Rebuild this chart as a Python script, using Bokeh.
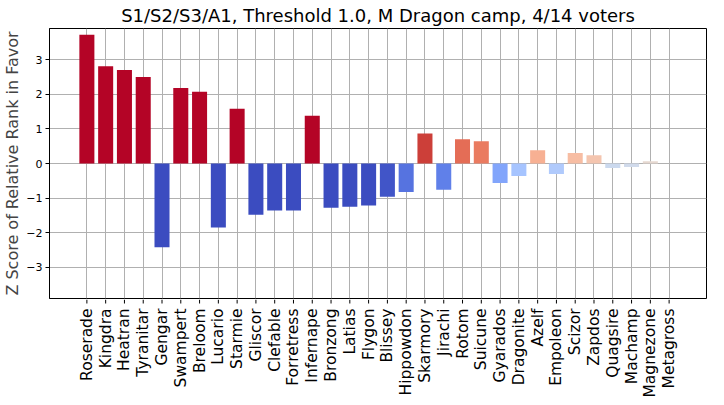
import math
from bokeh.plotting import figure
from bokeh.layouts import column
from bokeh.models import ColumnDataSource, FixedTicker, Range1d
from bokeh.core.properties import value
from bokeh.embed import file_html
from bokeh.resources import INLINE

names = ["Roserade", "Kingdra", "Heatran", "Tyranitar", "Gengar", "Swampert", "Breloom",
         "Lucario", "Starmie", "Gliscor", "Clefable", "Forretress", "Infernape", "Bronzong",
         "Latias", "Flygon", "Blissey", "Hippowdon", "Skarmory", "Jirachi", "Rotom", "Suicune",
         "Gyarados", "Dragonite", "Azelf", "Empoleon", "Scizor", "Zapdos", "Quagsire",
         "Machamp", "Magnezone", "Metagross"]
zscores = [3.72, 2.81, 2.70, 2.50, -2.42, 2.18, 2.07, -1.85, 1.58, -1.48, -1.36, -1.36, 1.38,
           -1.28, -1.25, -1.21, -0.96, -0.82, 0.87, -0.76, 0.70, 0.64, -0.56, -0.36, 0.38,
           -0.30, 0.30, 0.24, -0.13, -0.10, 0.067, 0.0]
y_ticks = [-3, -2, -1, 0, 1, 2, 3]
Y_MIN, Y_MAX = -3.9, 3.9

# Moreland coolwarm control points (33 samples)
COOLWARM = [(59, 76, 192), (68, 90, 204), (77, 104, 215), (87, 117, 225), (98, 130, 234),
            (108, 142, 241), (119, 154, 247), (130, 165, 251), (141, 176, 254), (152, 185, 255),
            (163, 194, 255), (174, 201, 253), (184, 208, 249), (194, 213, 244), (204, 217, 238),
            (213, 219, 230), (221, 221, 221), (229, 216, 209), (236, 211, 197), (241, 204, 185),
            (245, 196, 173), (247, 187, 160), (247, 177, 148), (247, 166, 135), (244, 154, 123),
            (241, 141, 111), (236, 127, 99), (229, 112, 88), (222, 96, 77), (213, 80, 66),
            (203, 62, 56), (192, 40, 47), (180, 4, 38)]


def coolwarm(v, vmin=-1.0, vmax=1.0):
    t = (v - vmin) / (vmax - vmin)
    t = min(max(t, 0.0), 1.0)
    pos = t * (len(COOLWARM) - 1)
    i = int(pos)
    if i >= len(COOLWARM) - 1:
        r, g, b = COOLWARM[-1]
    else:
        f = pos - i
        a, c = COOLWARM[i], COOLWARM[i + 1]
        r, g, b = [a[k] + (c[k] - a[k]) * f for k in range(3)]
    return "#%02x%02x%02x" % (int(round(r)), int(round(g)), int(round(b)))


xs = list(range(len(names)))
src = ColumnDataSource(dict(x=xs, top=zscores, color=[coolwarm(v) for v in zscores], name=names))

FONT = "DejaVu Sans"
LEFT, RIGHT = 41, 2
W = 708
H_MAIN, H_LAB = 299, 98

xr = Range1d(-1.99, 32.99)
p = figure(width=W, height=H_MAIN, output_backend="svg", toolbar_location=None,
           title="S1/S2/S3/A1, Threshold 1.0, M Dragon camp, 4/14 voters",
           x_range=xr, y_range=Range1d(Y_MIN, Y_MAX),
           min_border_left=LEFT, min_border_right=RIGHT, min_border_top=0, min_border_bottom=1)

p.vbar(x="x", top="top", bottom=0, width=0.8, fill_color="color", line_color=None, source=src)

p.title.text_font = FONT
p.title.text_font_size = "18px"
p.title.text_font_style = "normal"
p.title.align = "center"
p.title.text_color = "black"
p.title.standoff = 5

p.outline_line_color = "black"
p.outline_line_width = 1
p.outline_line_alpha = 1.0

p.xaxis.visible = False

ax = p.yaxis[0]
ax.axis_line_color = "black"
ax.major_tick_line_color = "black"
ax.major_tick_out = 4
ax.major_tick_in = 0
ax.minor_tick_line_color = None
ax.major_label_text_font = FONT
ax.major_label_text_color = "black"
ax.ticker = FixedTicker(ticks=y_ticks)
ax.major_label_overrides = {t: str(t).replace("-", "\u2212") for t in y_ticks}
ax.major_label_text_font_size = "11px"
ax.major_label_standoff = 3
ax.axis_label = "Z Score of Relative Rank in Favor"
ax.axis_label_text_font = FONT
ax.axis_label_text_font_size = "16px"
ax.axis_label_text_font_style = "normal"
ax.axis_label_standoff = 1

p.xgrid.ticker = FixedTicker(ticks=xs)
p.xgrid.grid_line_color = "#b0b0b0"
p.ygrid.grid_line_color = "#b0b0b0"
p.xgrid.grid_line_width = 1
p.ygrid.grid_line_width = 1

# strip under the chart holding the category ticks and their labels (y in pixels)
q = figure(width=W, height=H_LAB, output_backend="svg", toolbar_location=None,
           x_range=xr, y_range=Range1d(-H_LAB, 0),
           min_border_left=LEFT, min_border_right=RIGHT, min_border_top=0, min_border_bottom=0)
q.xaxis.visible = False
q.yaxis.visible = False
q.grid.visible = False
q.outline_line_color = None
q.segment(x0="x", x1="x", y0=0, y1=-4, line_color="black", line_width=1, source=src)
q.text(x="x", y=-9, text="name", angle=math.pi / 2, text_align="right",
       text_baseline="middle", text_font=value(FONT), text_font_size="15.5px",
       text_color="black", source=src)

layout = column(p, q, spacing=0)
open("out.html", "w").write(file_html(layout, INLINE))
